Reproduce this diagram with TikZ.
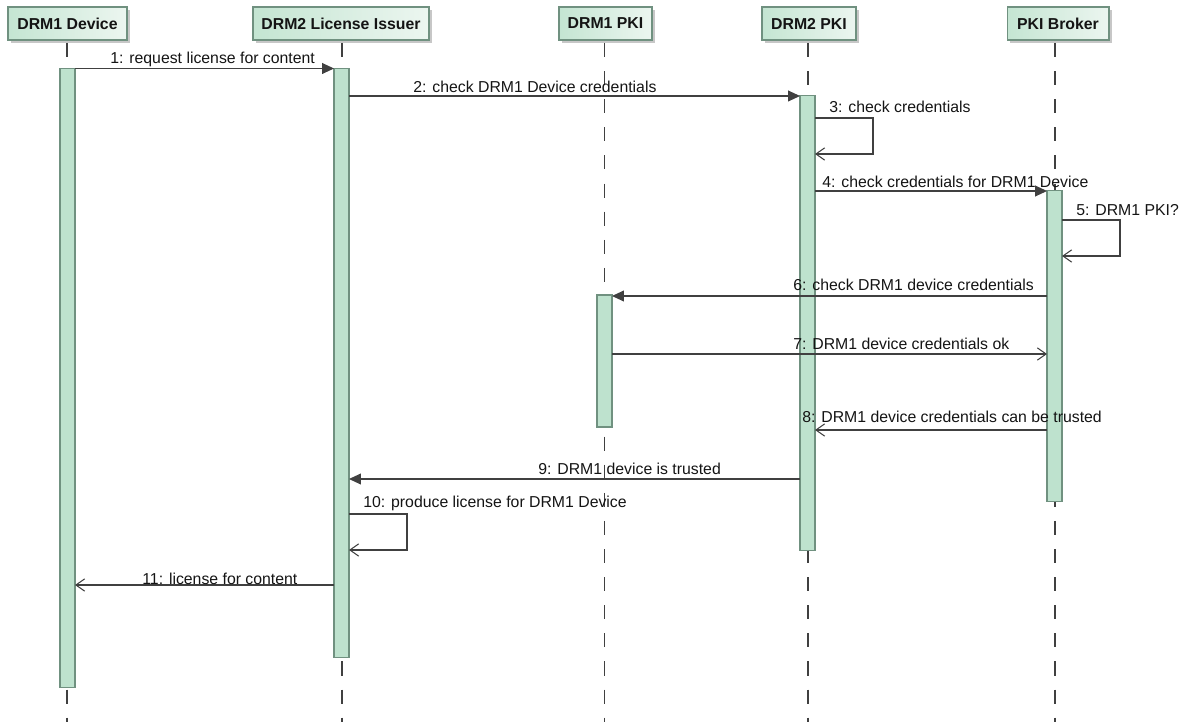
\documentclass[tikz,border=0pt]{standalone}
\usepackage{fontspec}
\setmainfont{Liberation Sans}
\usetikzlibrary{arrows.meta,shadows}

\definecolor{hdrfill}{RGB}{196,229,210}
\definecolor{hdrlight}{RGB}{236,246,240}
\definecolor{actfill}{RGB}{190,226,206}
\definecolor{boxline}{RGB}{112,145,128}
\definecolor{msgline}{RGB}{64,64,64}
\definecolor{txt}{RGB}{20,20,20}

\tikzset{
  header/.style={draw=boxline, line width=0.6pt, left color=hdrfill, right color=hdrlight,
    font=\fontsize{9}{11}\selectfont\bfseries, text=txt, inner sep=0pt,
    minimum height=0.66cm,
    drop shadow={shadow xshift=1.7pt, shadow yshift=-1.7pt, fill=black!40, opacity=0.55}},
  lifeline/.style={draw=msgline, line width=0.6pt, dash pattern=on 8pt off 8pt},
  actbar/.style={draw=boxline, line width=0.6pt, fill=actfill, inner sep=0pt,
    minimum width=0.3cm},
  msgcall/.style={draw=msgline, line width=0.6pt, -{Triangle[length=6.8pt,width=6.2pt]}},
  msgreply/.style={draw=msgline, line width=0.6pt, -{Straight Barb[length=5pt,width=7pt]}},
  lbl/.style={anchor=west, inner sep=0pt, text=txt, font=\fontsize{9}{11}\selectfont}
}

\begin{document}
\begin{tikzpicture}[x=0.02cm, y=-0.02cm]
\useasboundingbox (0,0) rectangle (1185,722);

% lifelines
\coordinate (t1) at (67,43);    \coordinate (b1) at (67,722);
\coordinate (t2) at (342,43);   \coordinate (b2) at (342,722);
\coordinate (t3) at (604.5,43); \coordinate (b3) at (604.5,722);
\coordinate (t4) at (808,43);   \coordinate (b4) at (808,722);
\coordinate (t5) at (1055,43);  \coordinate (b5) at (1055,722);
\foreach \i in {1,...,5} { \draw[lifeline] (t\i) -- (b\i); }

% participants
\node[header, minimum width=2.38cm] (p1) at (67.5,23.5) {DRM1 Device};
\node[header, minimum width=3.52cm] (p2) at (341,23.5) {DRM2 License Issuer};
\node[header, minimum width=1.86cm] (p3) at (605.5,23.5) {DRM1 PKI};
\node[header, minimum width=1.88cm] (p4) at (809,23.5) {DRM2 PKI};
\node[header, minimum width=2.04cm] (p5) at (1058,23.5) {PKI Broker};

% activation bars
\node[actbar, minimum height=12.40cm] (a1) at (67.5,378) {};
\node[actbar, minimum height=11.80cm] (a2) at (341.5,363) {};
\node[actbar, minimum height=9.12cm]  (a3) at (807.5,323) {};
\node[actbar, minimum height=6.24cm]  (a4) at (1054.5,346) {};
\node[actbar, minimum height=2.64cm]  (a5) at (604.5,361) {};

% message end points
\coordinate (m1s) at (75,68.5);   \coordinate (m1e) at (334,68.5);
\coordinate (m2s) at (349,96);    \coordinate (m2e) at (800,96);
\coordinate (m3s) at (815,118);   \coordinate (m3a) at (873,118);
\coordinate (m3b) at (873,154);   \coordinate (m3e) at (815,154);
\coordinate (m4s) at (815,191);   \coordinate (m4e) at (1047,191);
\coordinate (m5s) at (1062,220);  \coordinate (m5a) at (1120,220);
\coordinate (m5b) at (1120,256);  \coordinate (m5e) at (1062,256);
\coordinate (m6s) at (1047,296);  \coordinate (m6e) at (612,296);
\coordinate (m7s) at (612,354);   \coordinate (m7e) at (1047,354);
\coordinate (m8s) at (1047,430);  \coordinate (m8e) at (815,430);
\coordinate (m9s) at (800,479);   \coordinate (m9e) at (349,479);
\coordinate (m10s) at (349,514); \coordinate (m10a) at (407,514);
\coordinate (m10b) at (407,550); \coordinate (m10e) at (349,550);
\coordinate (m11s) at (334,585); \coordinate (m11e) at (75,585);

% messages
\draw[msgcall]  (m1s) -- (m1e);
\draw[msgcall]  (m2s) -- (m2e);
\draw[msgreply] (m3s) -- (m3a) -- (m3b) -- (m3e);
\draw[msgcall]  (m4s) -- (m4e);
\draw[msgreply] (m5s) -- (m5a) -- (m5b) -- (m5e);
\draw[msgcall]  (m6s) -- (m6e);
\draw[msgreply] (m7s) -- (m7e);
\draw[msgreply] (m8s) -- (m8e);
\draw[msgcall]  (m9s) -- (m9e);
\draw[msgreply] (m10s) -- (m10a) -- (m10b) -- (m10e);
\draw[msgreply] (m11s) -- (m11e);

% message labels
\node[lbl] (l1)  at (110,59)  {1: request license for content};
\node[lbl] (l2)  at (413,87)  {2: check DRM1 Device credentials};
\node[lbl] (l3)  at (829,107) {3: check credentials};
\node[lbl] (l4)  at (822,182) {4: check credentials for DRM1 Device};
\node[lbl] (l5)  at (1076,210) {5: DRM1 PKI?};
\node[lbl] (l6)  at (793,285) {6: check DRM1 device credentials};
\node[lbl] (l7)  at (793,344) {7: DRM1 device credentials ok};
\node[lbl] (l8)  at (802,417) {8: DRM1 device credentials can be trusted};
\node[lbl] (l9)  at (538,469) {9: DRM1 device is trusted};
\node[lbl] (l10) at (363,503) {10: produce license for DRM1 Device};
\node[lbl] (l11) at (142,579) {11: license for content};
\end{tikzpicture}
\end{document}
